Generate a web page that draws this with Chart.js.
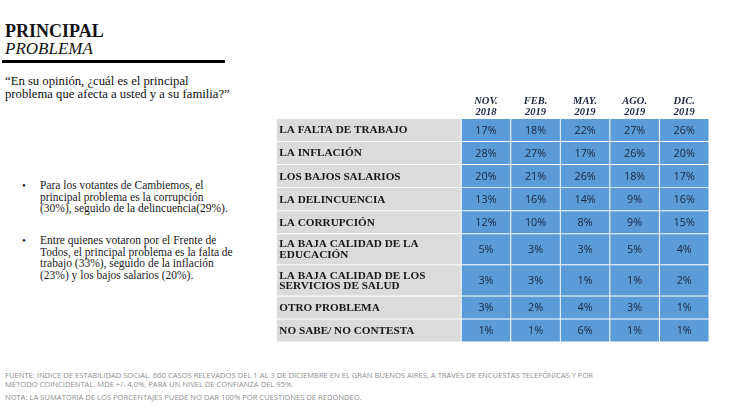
<!DOCTYPE html>
<html lang="es">
<head>
<meta charset="UTF-8">
<title>Principal problema</title>
<script src="https://cdn.jsdelivr.net/npm/chart.js"></script>
<style>
  body { margin: 0; background: #fff; }
  #page { position: relative; width: 730px; height: 413px; overflow: hidden; font-family: 'Liberation Serif', serif; color: #111; }
  .abs { position: absolute; white-space: nowrap; }
  #t1 { left: 5px; top: 23px; font-size: 18px; line-height: 17px; font-weight: bold; }
  #t2 { left: 5px; top: 40px; font-size: 17px; line-height: 17px; font-style: italic; }
  #rule { position: absolute; left: 2px; top: 60px; width: 223px; height: 3px; background: #000; }
  #quote { left: 5px; top: 75px; font-size: 12.7px; line-height: 13px; }
  .bullet { left: 40px; font-size: 11.5px; line-height: 11.5px; color: #222; }
  .dot { position: absolute; left: 22px; font-size: 11px; line-height: 11.5px; }
  .foot { left: 5px; font-family: 'Open Sans', sans-serif; font-size: 7.6px; line-height: 9px; color: #8e8e8e; }
  #chartBox { position: absolute; left: 276px; top: 90px; width: 433px; height: 252px; }
</style>
</head>
<body>
<div id="page">
  <div id="t1" class="abs">PRINCIPAL</div>
  <div id="t2" class="abs">PROBLEMA</div>
  <div id="rule"></div>
  <div id="quote" class="abs">“En su opinión, ¿cuál es el principal<br>problema que afecta a usted y a su familia?”</div>

  <div class="dot" style="top:180px">•</div>
  <div class="bullet abs" style="top:180px">Para los votantes de Cambiemos, el<br>principal problema es la corrupción<br>(30%), seguido de la delincuencia(29%).</div>
  <div class="dot" style="top:235px">•</div>
  <div class="bullet abs" style="top:235px">Entre quienes votaron por el Frente de<br>Todos, el principal problema es la falta de<br>trabajo (33%), seguido de la inflación<br>(23%) y los bajos salarios (20%).</div>

  <div class="foot abs" style="top:371px">FUENTE: ÍNDICE DE ESTABILIDAD SOCIAL. 600 CASOS RELEVADOS DEL 1 AL 3 DE DICIEMBRE EN EL GRAN BUENOS AIRES, A TRAVÉS DE ENCUESTAS TELEFÓNICAS Y POR<br>MÉTODO COINCIDENTAL. MDE +/- 4,0%, PARA UN NIVEL DE CONFIANZA DEL 95%.</div>
  <div class="foot abs" style="top:393px">NOTA: LA SUMATORIA DE LOS PORCENTAJES PUEDE NO DAR 100% POR CUESTIONES DE REDONDEO.</div>

  <div id="chartBox"><canvas id="tabla" width="433" height="252"></canvas></div>
</div>

<script>
  // column headers (tick labels)
  const periods = [['NOV.', '2018'], ['FEB.', '2019'], ['MAY.', '2019'], ['AGO.', '2019'], ['DIC.', '2019']];

  // row labels
  const problems = [
    'LA FALTA DE TRABAJO',
    'LA INFLACIÓN',
    'LOS BAJOS SALARIOS',
    'LA DELINCUENCIA',
    'LA CORRUPCIÓN',
    'LA BAJA CALIDAD DE LA\nEDUCACIÓN',
    'LA BAJA CALIDAD DE LOS\nSERVICIOS DE SALUD',
    'OTRO PROBLEMA',
    'NO SABE/ NO CONTESTA'
  ];

  // % per survey wave, same order as problems
  const nov2018 = [17, 28, 20, 13, 12, 5, 3, 3, 1];
  const feb2019 = [18, 27, 21, 16, 10, 3, 3, 2, 1];
  const may2019 = [22, 17, 26, 14, 8, 3, 1, 4, 6];
  const ago2019 = [27, 26, 18, 9, 9, 5, 1, 3, 1];
  const dic2019 = [26, 20, 17, 16, 15, 4, 2, 1, 1];

  const waves = [nov2018, feb2019, may2019, ago2019, dic2019];

  // a two-line label needs a taller row
  const rowSize = label => label.includes('\n') ? 1.35 : 1;
  const totalSize = problems.reduce((s, p) => s + rowSize(p), 0);

  const cellStyle = {
    borderColor: '#ffffff',
    borderWidth: 0.8,
    borderSkipped: false,
    grouped: false,
    categoryPercentage: 1,
    barPercentage: 1
  };

  const datasets = [];
  problems.forEach((p, r) => {
    datasets.push(Object.assign({
      xAxisID: 'xl',
      data: [rowSize(p)],
      cellText: [p],
      kind: 'label',
      backgroundColor: '#dbdbdb'
    }, cellStyle));
    datasets.push(Object.assign({
      xAxisID: 'x',
      data: waves.map(() => rowSize(p)),
      cellText: waves.map(w => w[r] + '%'),
      kind: 'value',
      backgroundColor: '#5b9bd8'
    }, cellStyle));
  });

  const cellText = {
    id: 'cellText',
    afterDatasetsDraw(chart) {
      const ctx = chart.ctx;
      ctx.save();
      chart.data.datasets.forEach((ds, i) => {
        const meta = chart.getDatasetMeta(i);
        meta.data.forEach((bar, j) => {
          const b = bar.getProps(['x', 'y', 'base', 'width'], true);
          const cy = (b.y + b.base) / 2;
          ctx.textBaseline = 'middle';
          if (ds.kind === 'value') {
            ctx.font = '10.8px "Open Sans", sans-serif';
            ctx.fillStyle = '#18263f';
            ctx.textAlign = 'center';
            ctx.fillText(ds.cellText[j], b.x, cy + 0.5);
          } else {
            ctx.font = 'bold 11.2px "Liberation Serif", serif';
            ctx.fillStyle = '#161616';
            ctx.textAlign = 'left';
            const lines = ds.cellText[j].split('\n');
            const lh = 10.5;
            lines.forEach((ln, k) => {
              ctx.fillText(ln, b.x - b.width / 2 + 3, cy + (k - (lines.length - 1) / 2) * lh + 0.5);
            });
          }
        });
      });
      ctx.restore();
    }
  };

  new Chart(document.getElementById('tabla'), {
    type: 'bar',
    data: { labels: periods, datasets: datasets },
    options: {
      responsive: false,
      animation: false,
      layout: { padding: 0 },
      plugins: { legend: { display: false }, tooltip: { enabled: false } },
      scales: {
        x: {
          type: 'category',
          position: 'top',
          stack: 'cols',
          stackWeight: 248,
          stacked: true,
          grid: { display: false, drawTicks: false },
          border: { display: false },
          ticks: {
            color: '#1c2742',
            padding: 1,
            maxRotation: 0,
            autoSkip: false,
            font: { family: 'Liberation Serif', weight: 'bold', style: 'italic', size: 10.5, lineHeight: 1.05 }
          },
          afterFit: s => { s.height = 28.5; }
        },
        xl: {
          type: 'category',
          labels: [''],
          position: 'top',
          stack: 'cols',
          stackWeight: 185,
          stacked: true,
          grid: { display: false, drawTicks: false },
          border: { display: false },
          ticks: { display: false },
          afterFit: s => { s.height = 28.5; }
        },
        y: {
          type: 'linear',
          stacked: true,
          reverse: true,
          min: 0,
          max: totalSize,
          display: false
        }
      }
    },
    plugins: [cellText]
  });
</script>
</body>
</html>
